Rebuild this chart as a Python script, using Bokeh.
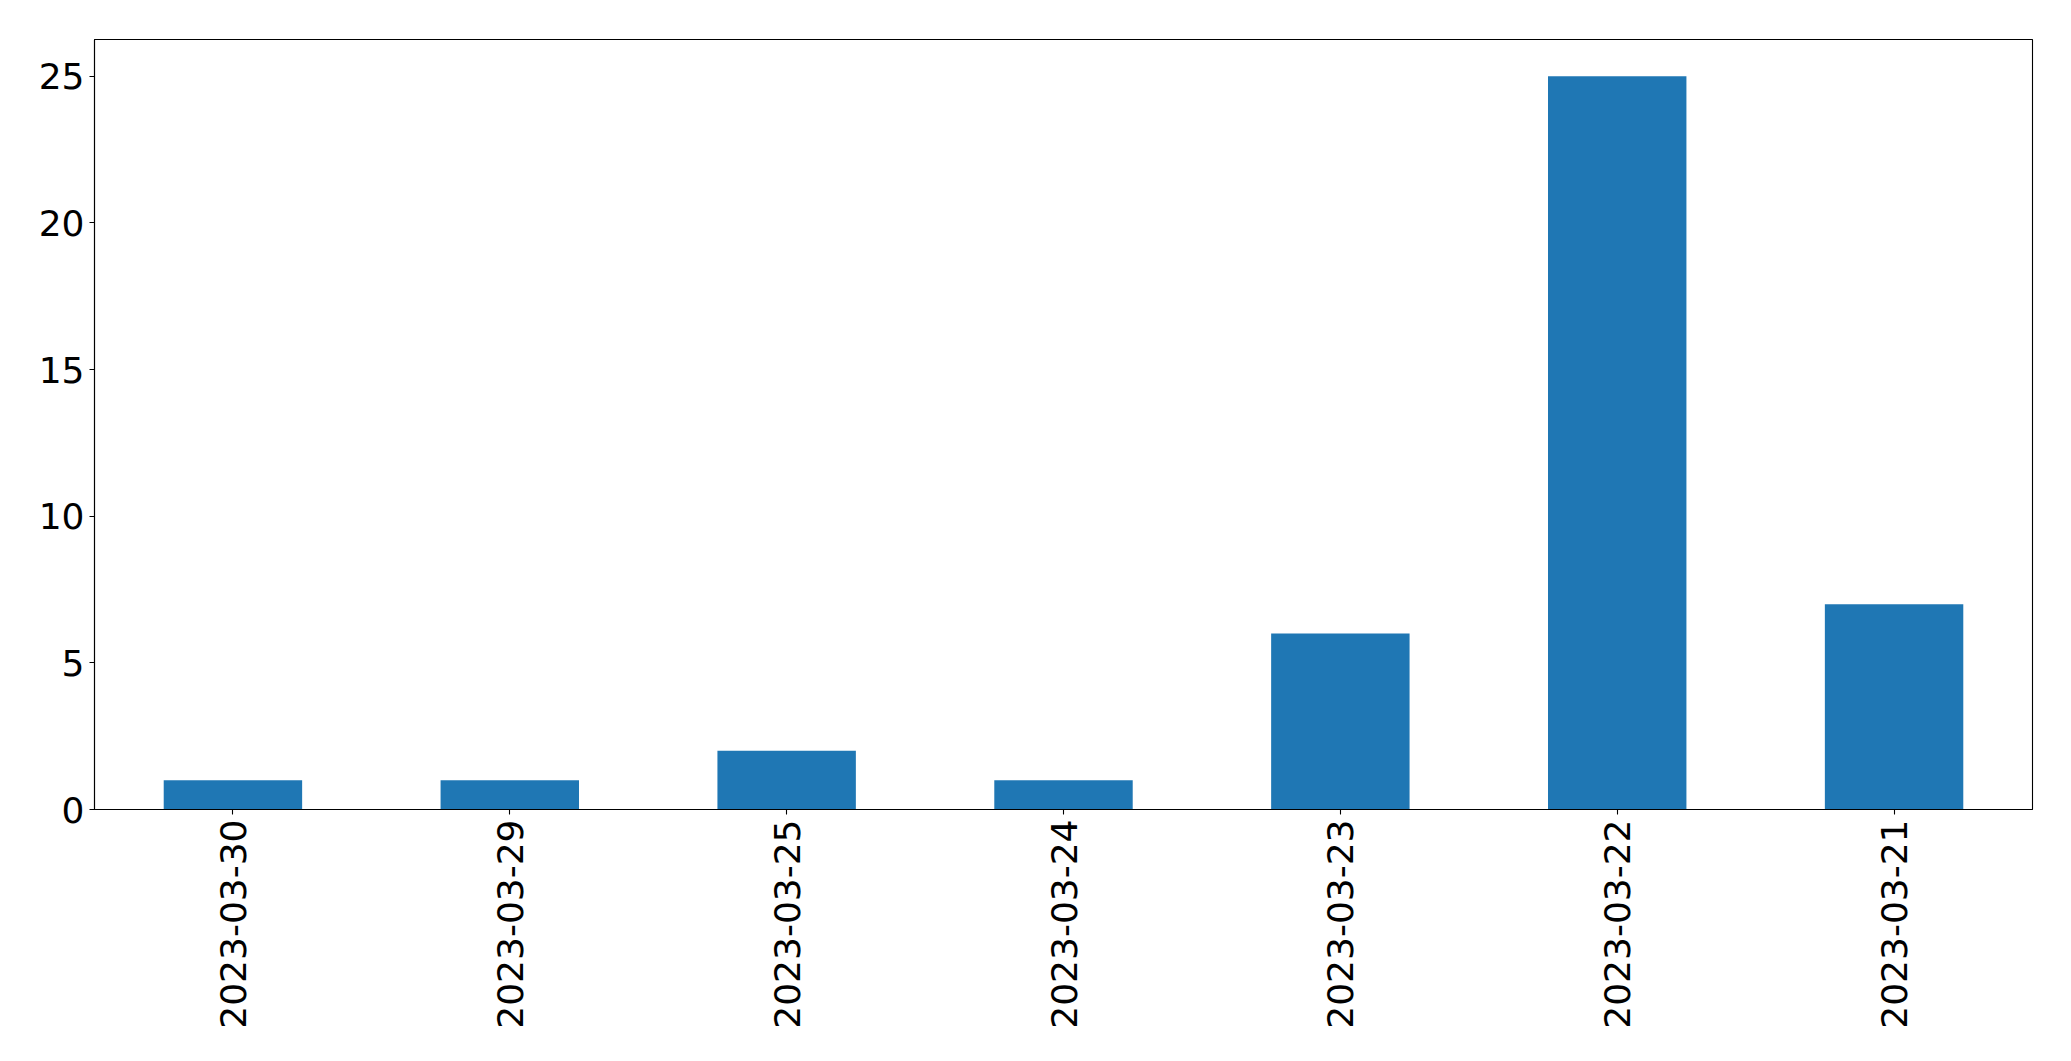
import math
from bokeh.plotting import figure
from bokeh.models import FactorRange, Range1d, FixedTicker, ColumnDataSource
from bokeh.embed import file_html
from bokeh.resources import INLINE

dates = ["2023-03-30", "2023-03-29", "2023-03-25", "2023-03-24", "2023-03-23", "2023-03-22", "2023-03-21"]
counts = [1, 1, 2, 1, 6, 25, 7]
y_ticks = [0, 5, 10, 15, 20, 25]

source = ColumnDataSource(data=dict(date=dates, count=counts))

p = figure(
    x_range=FactorRange(*dates, range_padding=0),
    y_range=Range1d(0, max(counts) * 1.05),
    width=2044, height=1040,
    output_backend="svg", toolbar_location=None,
    min_border_left=94, min_border_top=39, min_border_right=12, min_border_bottom=231,
)

p.vbar(x="date", top="count", width=0.5, source=source, fill_color="#1f77b4", line_color=None)

p.xgrid.visible = False
p.ygrid.visible = False
p.outline_line_color = "black"
p.outline_line_width = 1.1
p.background_fill_color = "white"
p.border_fill_color = "white"

p.yaxis.ticker = FixedTicker(ticks=y_ticks)
for ax in (p.xaxis[0], p.yaxis[0]):
    ax.axis_line_color = "black"
    ax.axis_line_width = 1.1
    ax.major_tick_line_color = "black"
    ax.major_tick_line_width = 1.1
    ax.major_tick_out = 5
    ax.major_tick_in = 0
    ax.minor_tick_line_color = None
    ax.major_label_text_font = "DejaVu Sans"
    ax.major_label_text_font_size = "36px"
    ax.major_label_text_color = "black"
    ax.major_label_standoff = 5

p.xaxis.major_label_orientation = math.pi / 2

open("out.html", "w").write(file_html(p, INLINE))
